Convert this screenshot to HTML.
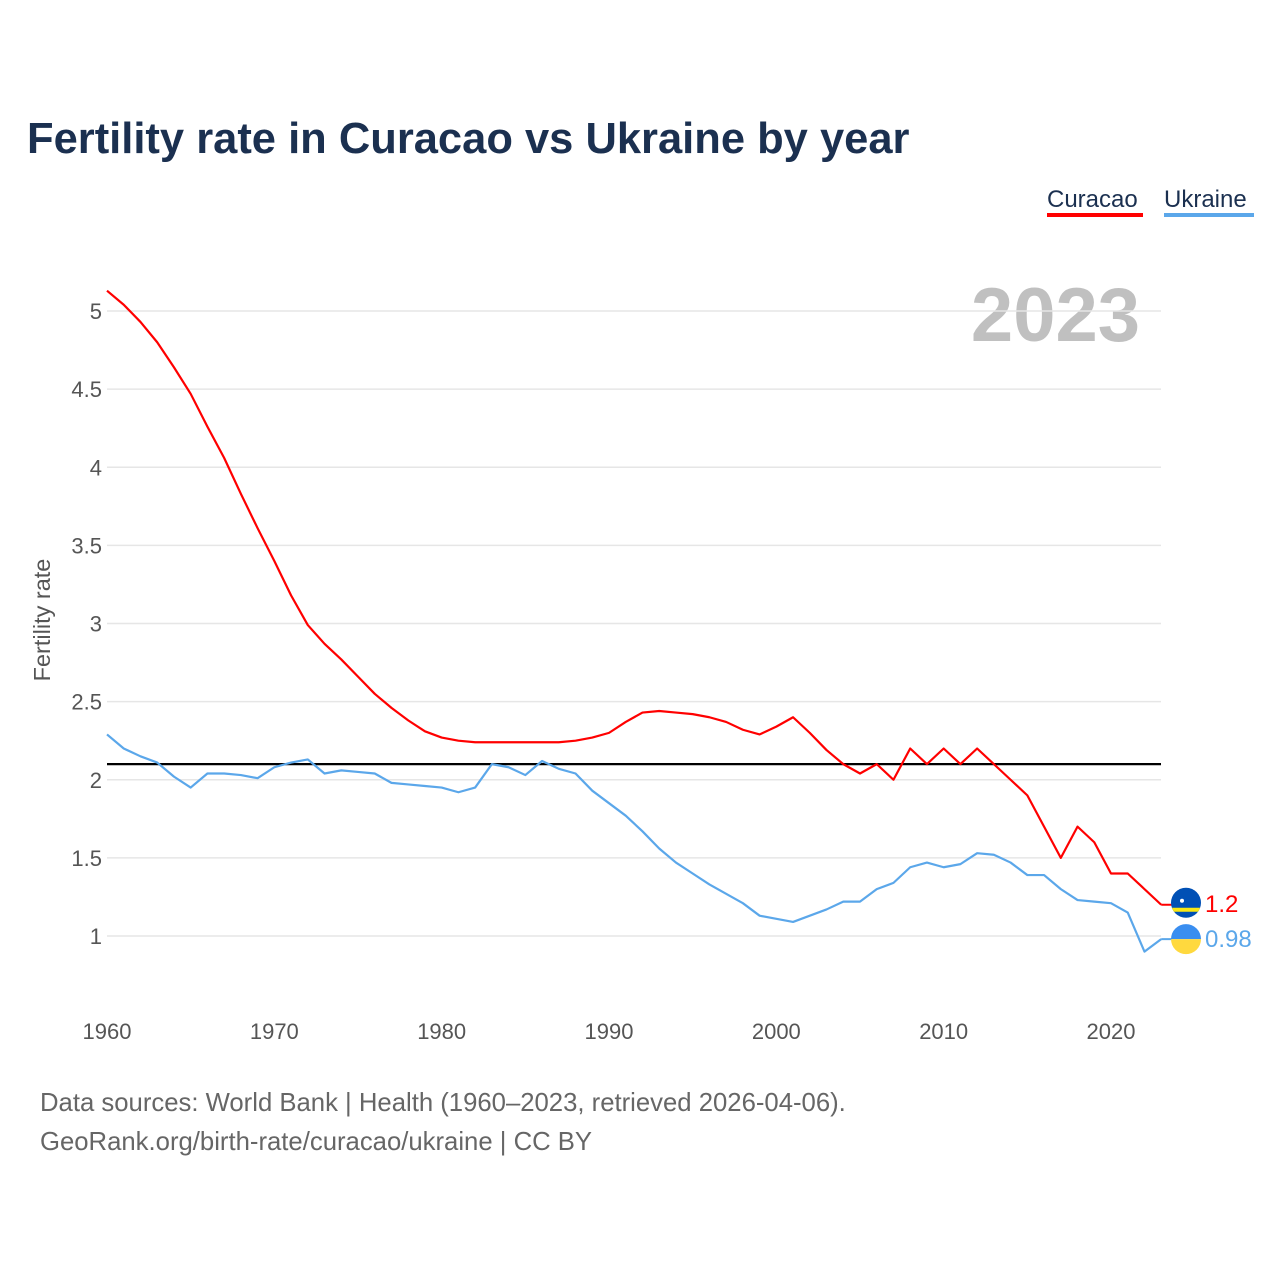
<!DOCTYPE html>
<html><head><meta charset="utf-8"><style>
body{margin:0;background:#fff;}
svg text{font-family:"Liberation Sans",sans-serif;}
</style></head><body>
<svg width="1280" height="1280" xmlns="http://www.w3.org/2000/svg">
<text x="27" y="153" font-size="43.5" font-weight="bold" fill="#1b3050">Fertility rate in Curacao vs Ukraine by year</text>
<g>
<text x="1047" y="207" font-size="24" fill="#1b3050">Curacao</text>
<rect x="1047" y="213" width="96" height="4" fill="#ff0000"/>
<text x="1164" y="207" font-size="24" fill="#1b3050">Ukraine</text>
<rect x="1164" y="213" width="90" height="4" fill="#5ba7ea"/>
</g>
<text x="1140" y="341" font-size="76" font-weight="bold" fill="#c0c0c0" text-anchor="end">2023</text>
<g id="grid"></g>
<g id="yticks"></g>
<g id="xticks"></g>
<text transform="translate(50,620) rotate(-90)" font-size="23.5" fill="#555" text-anchor="middle">Fertility rate</text>
<g id="series"></g>
<g id="ends"></g>
<text x="40" y="1111" font-size="25.7" fill="#666">Data sources: World Bank | Health (1960–2023, retrieved 2026-04-06).</text>
<text x="40" y="1150" font-size="25.7" fill="#666">GeoRank.org/birth-rate/curacao/ukraine | CC BY</text>
</svg>
<script>
const years=[];for(let y=1960;y<=2023;y++)years.push(y);
const curacao=[5.13,5.04,4.93,4.8,4.64,4.47,4.26,4.06,3.83,3.61,3.40,3.18,2.99,2.87,2.77,2.66,2.55,2.46,2.38,2.31,2.27,2.25,2.24,2.24,2.24,2.24,2.24,2.24,2.25,2.27,2.30,2.37,2.43,2.44,2.43,2.42,2.40,2.37,2.32,2.29,2.34,2.40,2.30,2.19,2.10,2.04,2.10,2.00,2.20,2.10,2.20,2.10,2.20,2.10,2.0,1.9,1.7,1.5,1.7,1.6,1.4,1.4,1.3,1.2];
const ukraine=[2.29,2.20,2.15,2.11,2.02,1.95,2.04,2.04,2.03,2.01,2.08,2.11,2.13,2.04,2.06,2.05,2.04,1.98,1.97,1.96,1.95,1.92,1.95,2.10,2.08,2.03,2.12,2.07,2.04,1.93,1.85,1.77,1.67,1.56,1.47,1.40,1.33,1.27,1.21,1.13,1.11,1.09,1.13,1.17,1.22,1.22,1.30,1.34,1.44,1.47,1.44,1.46,1.53,1.52,1.47,1.39,1.39,1.30,1.23,1.22,1.21,1.15,0.90,0.98];
const yTicks=[1,1.5,2,2.5,3,3.5,4,4.5,5];
const xTicks=[1960,1970,1980,1990,2000,2010,2020];
const refValue=2.1;
const NS="http://www.w3.org/2000/svg";
const X=yr=>107+(yr-1960)*(1004/60);
const Y=v=>936-(v-1)*156.25;
function mk(t,a,p){const e=document.createElementNS(NS,t);for(const k in a)e.setAttribute(k,a[k]);p.appendChild(e);return e;}
const grid=document.getElementById('grid'),yt=document.getElementById('yticks'),xt=document.getElementById('xticks');
yTicks.forEach(v=>{
 const l=mk('line',{x1:107,x2:1161,y1:Y(v),y2:Y(v),stroke:'#e6e6e6','stroke-width':1.5},grid);
 
 
 const t=mk('text',{x:102,y:Y(v)+8,'font-size':22,fill:'#555','text-anchor':'end'},yt);t.textContent=v;
 
 
});
xTicks.forEach(v=>{
 const t=mk('text',{x:X(v),y:1039,'font-size':22,fill:'#555','text-anchor':'middle'},xt);t.textContent=v;
 
 
});
const s=document.getElementById('series');
const ref=mk('line',{x1:107,x2:1161,y1:Y(refValue),y2:Y(refValue),stroke:'#000','stroke-width':2.2},s);


function line(d,c,n){const p=mk('polyline',{points:d.map((v,i)=>X(years[i])+','+Y(v)).join(' '),fill:'none',stroke:c,'stroke-width':2.2,'stroke-linejoin':'round'},s);
 
 }
line(ukraine,'#5ba7ea','ukraine-line');
line(curacao,'#ff0000','curacao-line');
const ends=document.getElementById('ends');
const lx=X(2023);
const cy=Y(curacao[63])-2;
const uy=Y(ukraine[63]);
const cf=mk('g',{},ends);


mk('line',{x1:lx,x2:1172,y1:cy+2,y2:cy+2,stroke:'#ff0000','stroke-width':2},cf);
mk('defs',{},cf).innerHTML='<clipPath id="c1"><circle cx="1186" cy="'+cy+'" r="15"/></clipPath><clipPath id="c2"><circle cx="1186" cy="'+uy+'" r="15"/></clipPath>';
const g1=mk('g',{'clip-path':'url(#c1)'},cf);
mk('rect',{x:1170,y:cy-16,width:32,height:32,fill:'#0050b5'},g1);
mk('rect',{x:1170,y:cy+5,width:32,height:4,fill:'#f9e814'},g1);
mk('circle',{cx:1182,cy:cy-2,r:2,fill:'#fff'},g1);
const t1=mk('text',{x:1205,y:cy+9,'font-size':24,fill:'#ff0000'},ends);t1.textContent=curacao[63];


const uf=mk('g',{},ends);


mk('line',{x1:lx,x2:1172,y1:uy,y2:uy,stroke:'#5ba7ea','stroke-width':2},uf);
const g2=mk('g',{'clip-path':'url(#c2)'},uf);
mk('rect',{x:1170,y:uy-16,width:32,height:16,fill:'#3a8ef0'},g2);
mk('rect',{x:1170,y:uy,width:32,height:16,fill:'#ffd93e'},g2);
const t2=mk('text',{x:1205,y:uy+8,'font-size':24,fill:'#5ba7ea'},ends);t2.textContent=ukraine[63];


</script>
</body></html>
